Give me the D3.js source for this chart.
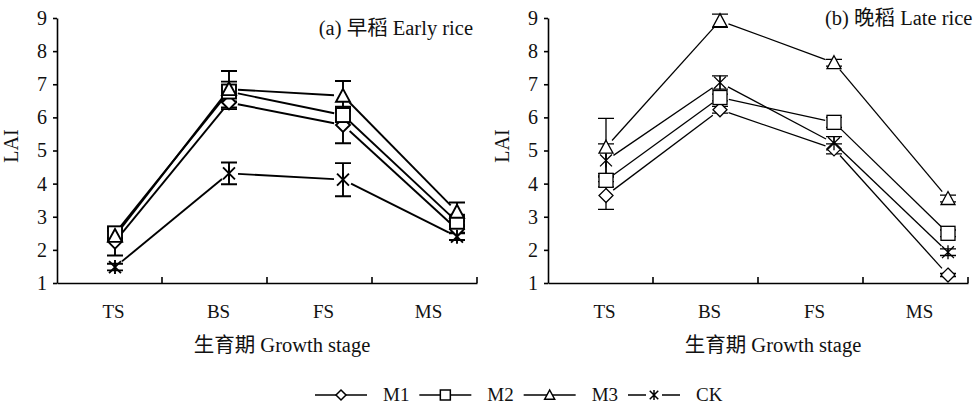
<!DOCTYPE html>
<meta charset="utf-8">
<script src="https://d3js.org/d3.v7.min.js"></script>
<style>
  body { margin: 0; background: #fff; }
  text { font-family: "Liberation Serif", "Noto Sans CJK SC", serif; fill: #111; }
</style>
<div id="my_dataviz"></div>
<script>
// data
var stages = ["TS", "BS", "FS", "MS"];
var series = ["M1", "M2", "M3", "CK"];

// (a) early rice
var earlyM1 = [2.25, 6.45, 5.77, 2.62];
var earlyM2 = [2.50, 6.78, 6.07, 2.85];
var earlyM3 = [2.42, 6.85, 6.65, 3.15];
var earlyCK = [1.48, 4.31, 4.12, 2.40];
var earlyErrM1 = [0.42, 0.20, 0.55, 0.10];
var earlyErrM2 = [0.15, 0.30, 0.20, 0.10];
var earlyErrM3 = [0.15, 0.55, 0.45, 0.28];
var earlyErrCK = [0.10, 0.33, 0.50, 0.10];

// (b) late rice
var lateM1 = [3.64, 6.23, 5.05, 1.24];
var lateM2 = [4.10, 6.60, 5.85, 2.50];
var lateM3 = [5.10, 8.92, 7.65, 3.55];
var lateCK = [4.70, 7.05, 5.22, 1.93];
var lateErrM1 = [0.42, 0.10, 0.15, 0.05];
var lateErrM2 = [0.20, 0.10, 0.15, 0.10];
var lateErrM3 = [0.87, 0.20, 0.10, 0.10];
var lateErrCK = [0.50, 0.20, 0.20, 0.10];

var yTicks = [1, 2, 3, 4, 5, 6, 7, 8, 9];

var panels = [
  { title: "(a) 早稻 Early rice", x0: 57, lw: 1.9,
    values: [earlyM1, earlyM2, earlyM3, earlyCK],
    errs: [earlyErrM1, earlyErrM2, earlyErrM3, earlyErrCK] },
  { title: "(b) 晚稻 Late rice", x0: 548, lw: 1.3,
    values: [lateM1, lateM2, lateM3, lateCK],
    errs: [lateErrM1, lateErrM2, lateErrM3, lateErrCK] }
];

var W = 975, H = 407;
var plotW = 420, plotTop = 18, plotBottom = 283;

var svg = d3.select("#my_dataviz")
  .append("svg")
    .attr("width", W)
    .attr("height", H);

var y = d3.scaleLinear().domain([1, 9]).range([plotBottom, plotTop]);

// marker shapes, s = half width
function marker(g, name, cx, cy, s, lw) {
  var m = g.append("g").attr("transform", "translate(" + cx + "," + cy + ")")
    .attr("stroke", "#000").attr("stroke-width", lw).attr("fill", "#fff");
  if (name === "M1") {
    m.append("path").attr("d", "M0," + (-s) + "L" + s + ",0L0," + s + "L" + (-s) + ",0Z");
  } else if (name === "M2") {
    m.append("rect").attr("x", -s).attr("y", -s).attr("width", 2 * s).attr("height", 2 * s);
  } else if (name === "M3") {
    m.append("path").attr("d", "M0," + (-s) + "L" + s + "," + (s * 0.85) + "L" + (-s) + "," + (s * 0.85) + "Z");
  } else {
    var d = s * 0.85;
    m.append("path").attr("fill", "none")
      .attr("d", "M0," + (-s) + "L0," + s + "M" + (-d) + "," + (-d) + "L" + d + "," + d + "M" + d + "," + (-d) + "L" + (-d) + "," + d);
  }
}

panels.forEach(function(p) {
  var g = svg.append("g");

  // points sit off the band centres, like the original
  var x = d3.scalePoint().domain(stages).range([p.x0 + 58, p.x0 + 400]);
  var band = d3.scaleBand().domain(stages).range([p.x0, p.x0 + plotW]);

  // Y axis
  var ya = g.append("g")
    .attr("transform", "translate(" + p.x0 + ",0)")
    .call(d3.axisLeft(y).tickValues(yTicks).tickSize(4).tickSizeOuter(0).tickPadding(6).tickFormat(d3.format("d")));
  ya.selectAll("text").style("font-size", "20px").attr("fill", "#111");
  ya.selectAll("line, path").attr("stroke", "#000").attr("stroke-width", 1.6);

  // X axis: labels through band scale, ticks at band edges pointing up
  var xa = g.append("g")
    .attr("transform", "translate(0," + plotBottom + ")")
    .call(d3.axisBottom(band).tickSize(0).tickPadding(22));
  xa.select(".domain").attr("stroke", "#000").attr("stroke-width", 1.6);
  xa.selectAll("text").style("font-size", "19px").attr("fill", "#111").attr("dx", 4);
  g.selectAll(".xtick").data(stages)
    .enter().append("line")
      .attr("x1", function(d) { return band(d) + band.bandwidth(); })
      .attr("x2", function(d) { return band(d) + band.bandwidth(); })
      .attr("y1", plotBottom).attr("y2", plotBottom - 6)
      .attr("stroke", "#000").attr("stroke-width", 1.6);

  // series lines with small gaps around the markers
  var gap = 9;
  p.values.forEach(function(vals, si) {
    for (var i = 0; i < vals.length - 1; i++) {
      var x1 = x(stages[i]), y1 = y(vals[i]), x2 = x(stages[i + 1]), y2 = y(vals[i + 1]);
      var len = Math.hypot(x2 - x1, y2 - y1), ux = (x2 - x1) / len, uy = (y2 - y1) / len;
      g.append("line")
        .attr("x1", x1 + ux * gap).attr("y1", y1 + uy * gap)
        .attr("x2", x2 - ux * gap).attr("y2", y2 - uy * gap)
        .attr("stroke", "#000").attr("stroke-width", p.lw);
    }
  });

  // error bars
  p.values.forEach(function(vals, si) {
    vals.forEach(function(v, i) {
      var e = p.errs[si][i], cx = x(stages[i]);
      g.append("path")
        .attr("d", "M" + cx + "," + y(v - e) + "L" + cx + "," + y(v + e) +
          "M" + (cx - 8) + "," + y(v + e) + "L" + (cx + 8) + "," + y(v + e) +
          "M" + (cx - 8) + "," + y(v - e) + "L" + (cx + 8) + "," + y(v - e))
        .attr("fill", "none").attr("stroke", "#000").attr("stroke-width", p.lw);
    });
  });

  // markers
  p.values.forEach(function(vals, si) {
    vals.forEach(function(v, i) {
      marker(g, series[si], x(stages[i]), y(v), 7, p.lw);
    });
  });

  // texts
  g.append("text")
    .attr("transform", "translate(" + (p.x0 - 39) + "," + 146 + ") rotate(-90)")
    .attr("text-anchor", "middle")
    .style("font-size", "20px")
    .text("LAI");

  g.append("text")
    .attr("x", p.x0 + plotW / 2 + 15).attr("y", 352)
    .attr("text-anchor", "middle")
    .style("font-size", "20.5px")
    .text("生育期 Growth stage");
});

svg.append("text").attr("x", 473).attr("y", 35).attr("text-anchor", "end")
  .style("font-size", "20.5px").text(panels[0].title);
svg.append("text").attr("x", 825).attr("y", 25)
  .style("font-size", "20.5px").text(panels[1].title);

// legend
var lx = d3.scalePoint().domain(series).range([315, 628]);
var ly = 395;
series.forEach(function(s) {
  var x1 = lx(s), cx = x1 + 26;
  if (s === "CK") {
    svg.append("path").attr("d", "M" + x1 + "," + ly + "L" + (cx - 8) + "," + ly + "M" + (cx + 8) + "," + ly + "L" + (x1 + 52) + "," + ly)
      .attr("stroke", "#000").attr("stroke-width", 1.5);
  } else {
    svg.append("line").attr("x1", x1).attr("x2", x1 + 52).attr("y1", ly).attr("y2", ly)
      .attr("stroke", "#000").attr("stroke-width", 1.5);
  }
  marker(svg, s, cx, ly, 5, 1.5);
  svg.append("text").attr("x", x1 + 68).attr("y", ly + 6)
    .style("font-size", "19px").text(s);
});
</script>
